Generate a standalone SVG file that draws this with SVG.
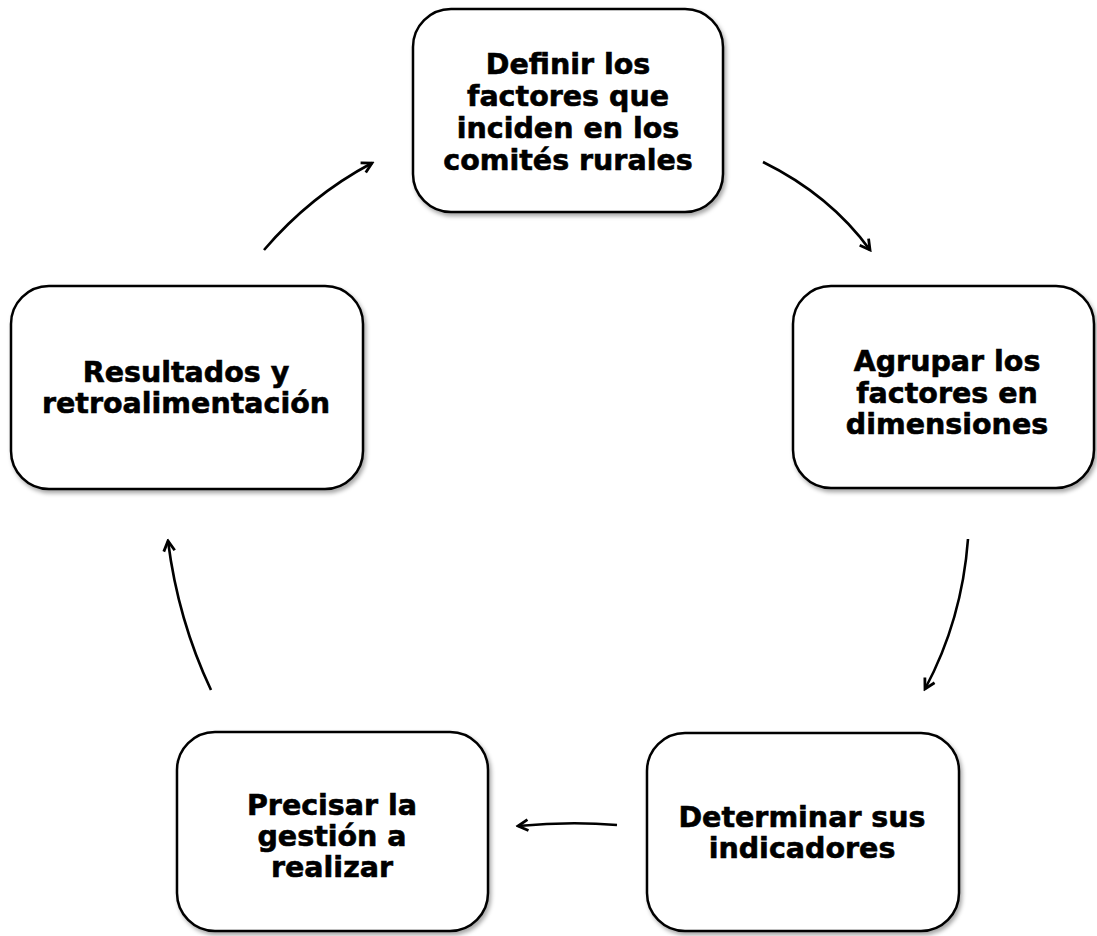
<svg xmlns="http://www.w3.org/2000/svg" width="1097" height="936" viewBox="0 0 1097 936">
<defs>
<style>
.box{fill:#fff;stroke:#000;stroke-width:2.5;filter:url(#sh)}
.t{font-family:"DejaVu Sans",Verdana,sans-serif;font-weight:bold;font-size:28.5px;fill:#000;stroke:#000;stroke-width:0.6;text-anchor:middle}
.c{fill:none;stroke:#000;stroke-width:2.6;marker-end:url(#ah)}
</style>
<filter id="sh" x="-10%" y="-10%" width="130%" height="130%">
<feDropShadow dx="2" dy="3" stdDeviation="2" flood-color="#000" flood-opacity="0.35"/>
</filter>
<marker id="ah" viewBox="0 0 14 14" refX="11.5" refY="7" markerWidth="14" markerHeight="14" markerUnits="userSpaceOnUse" orient="auto">
<path d="M1.5,1.5 L11.5,7 L1.5,12.5" fill="none" stroke="#000" stroke-width="2.8"/>
</marker>
</defs>
<rect width="1097" height="936" fill="#fff"/>
<g id="connectors">
<path class="c" d="M763,162 Q830,195 870,250"/>
<path class="c" d="M968,539 Q962,620 925,689"/>
<path class="c" d="M617,825 Q570,821 518,826"/>
<path class="c" d="M211,690 Q178,620 168,541"/>
<path class="c" d="M264,250 Q310,196 372,163"/>
</g>
<g id="n1">
<rect class="box" x="413" y="9" width="310" height="203" rx="38"/>
<text class="t" x="568" y="74">Definir los</text>
<text class="t" x="568" y="106">factores que</text>
<text class="t" x="568" y="138">inciden en los</text>
<text class="t" x="568" y="170">comités rurales</text>
</g>
<g id="n2">
<rect class="box" x="793" y="286" width="301" height="202" rx="38"/>
<text class="t" x="947" y="371">Agrupar los</text>
<text class="t" x="947" y="403">factores en</text>
<text class="t" x="947" y="434">dimensiones</text>
</g>
<g id="n3">
<rect class="box" x="647" y="733" width="312" height="198" rx="38"/>
<text class="t" x="802" y="827">Determinar sus</text>
<text class="t" x="802" y="858">indicadores</text>
</g>
<g id="n4">
<rect class="box" x="177" y="732" width="311" height="199" rx="38"/>
<text class="t" x="332" y="815">Precisar la</text>
<text class="t" x="332" y="846">gestión a</text>
<text class="t" x="332" y="877">realizar</text>
</g>
<g id="n5">
<rect class="box" x="11" y="286" width="352" height="203" rx="38"/>
<text class="t" x="186" y="382">Resultados y</text>
<text class="t" x="186" y="413">retroalimentación</text>
</g>
</svg>
